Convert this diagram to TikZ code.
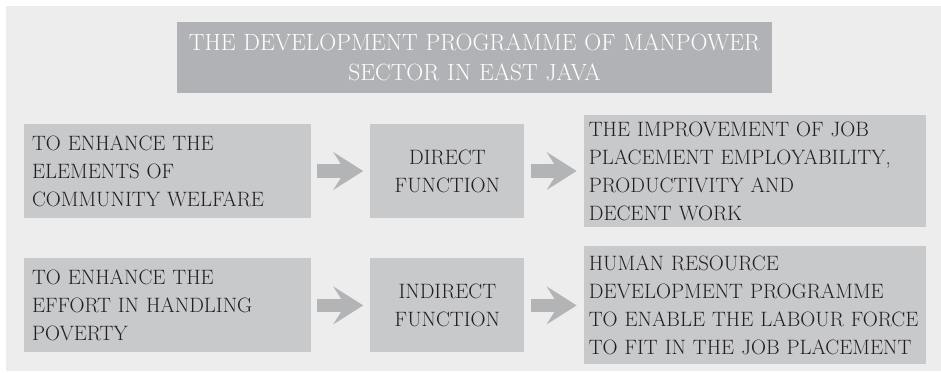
\documentclass[tikz,border=0pt]{standalone}
\usepackage{tikz}
\usetikzlibrary{
        arrows.meta,
        positioning
    }
\definecolor{bggray}{HTML}{EDEDED}
\definecolor{boxgray}{HTML}{C8C9CB}
\definecolor{headgray}{HTML}{B1B2B5}
\definecolor{arrowgray}{HTML}{B3B4B6}
\definecolor{inkgray}{HTML}{231F20}
\tikzset{>={Stealth[length=30pt,width=38pt,inset=12pt,line width=0pt]},node distance=59pt}
\tikzset{
    headbox/.style={fill=headgray,text=white,font=\fontsize{23.5}{30}\selectfont,
        align=center,inner xsep=8pt,text width=579pt,minimum height=71pt},
    aimbox/.style={fill=boxgray,text=inkgray,font=\fontsize{20.8}{28}\selectfont,
        align=left,inner xsep=8pt,text width=271pt,minimum height=94pt},
    funcbox/.style={fill=boxgray,text=inkgray,font=\fontsize{20.8}{28}\selectfont,
        align=center,inner xsep=8pt,text width=138pt,minimum height=94pt},
    resbox/.style={fill=boxgray,text=inkgray,font=\fontsize{20.8}{28}\selectfont,
        align=left,inner xsep=5pt,text width=332pt},
    flow/.style={->,color=arrowgray,line width=13pt,shorten <=6pt,shorten >=7pt}
}

\begin{document}
\begin{tikzpicture}[x=1pt,y=-1pt]
                \useasboundingbox (0,0) rectangle (941,374);
                \fill[bggray] (6,6) rectangle (941,371);
                \node[headbox] (title) at (474.5,57.5) {THE DEVELOPMENT PROGRAMME OF MANPOWER\\SECTOR IN EAST JAVA};
                % direct row
                \node[aimbox] (aim1) at (167.5,171) {TO ENHANCE THE\\ELEMENTS OF\\COMMUNITY WELFARE};
                \node[funcbox] (func1) [right=of aim1] {DIRECT\\FUNCTION};
                \node[resbox,minimum height=112pt] (res1) [right=of func1] {THE IMPROVEMENT OF JOB\\PLACEMENT EMPLOYABILITY,\\PRODUCTIVITY AND\\DECENT WORK};
                % indirect row
                \node[aimbox] (aim2) [below=40pt of aim1] {TO ENHANCE THE\\EFFORT IN HANDLING\\POVERTY};
                \node[funcbox] (func2) [right=of aim2] {INDIRECT\\FUNCTION};
                \node[resbox,minimum height=118pt] (res2) [right=of func2] {HUMAN RESOURCE\\DEVELOPMENT PROGRAMME\\TO ENABLE THE LABOUR FORCE\\TO FIT IN THE JOB PLACEMENT};
                \path[flow]
                    (aim1) edge (func1)
                    (func1) edge (res1)
                    (aim2) edge (func2)
                    (func2) edge (res2)
                ;
            \end{tikzpicture}
\end{document}
